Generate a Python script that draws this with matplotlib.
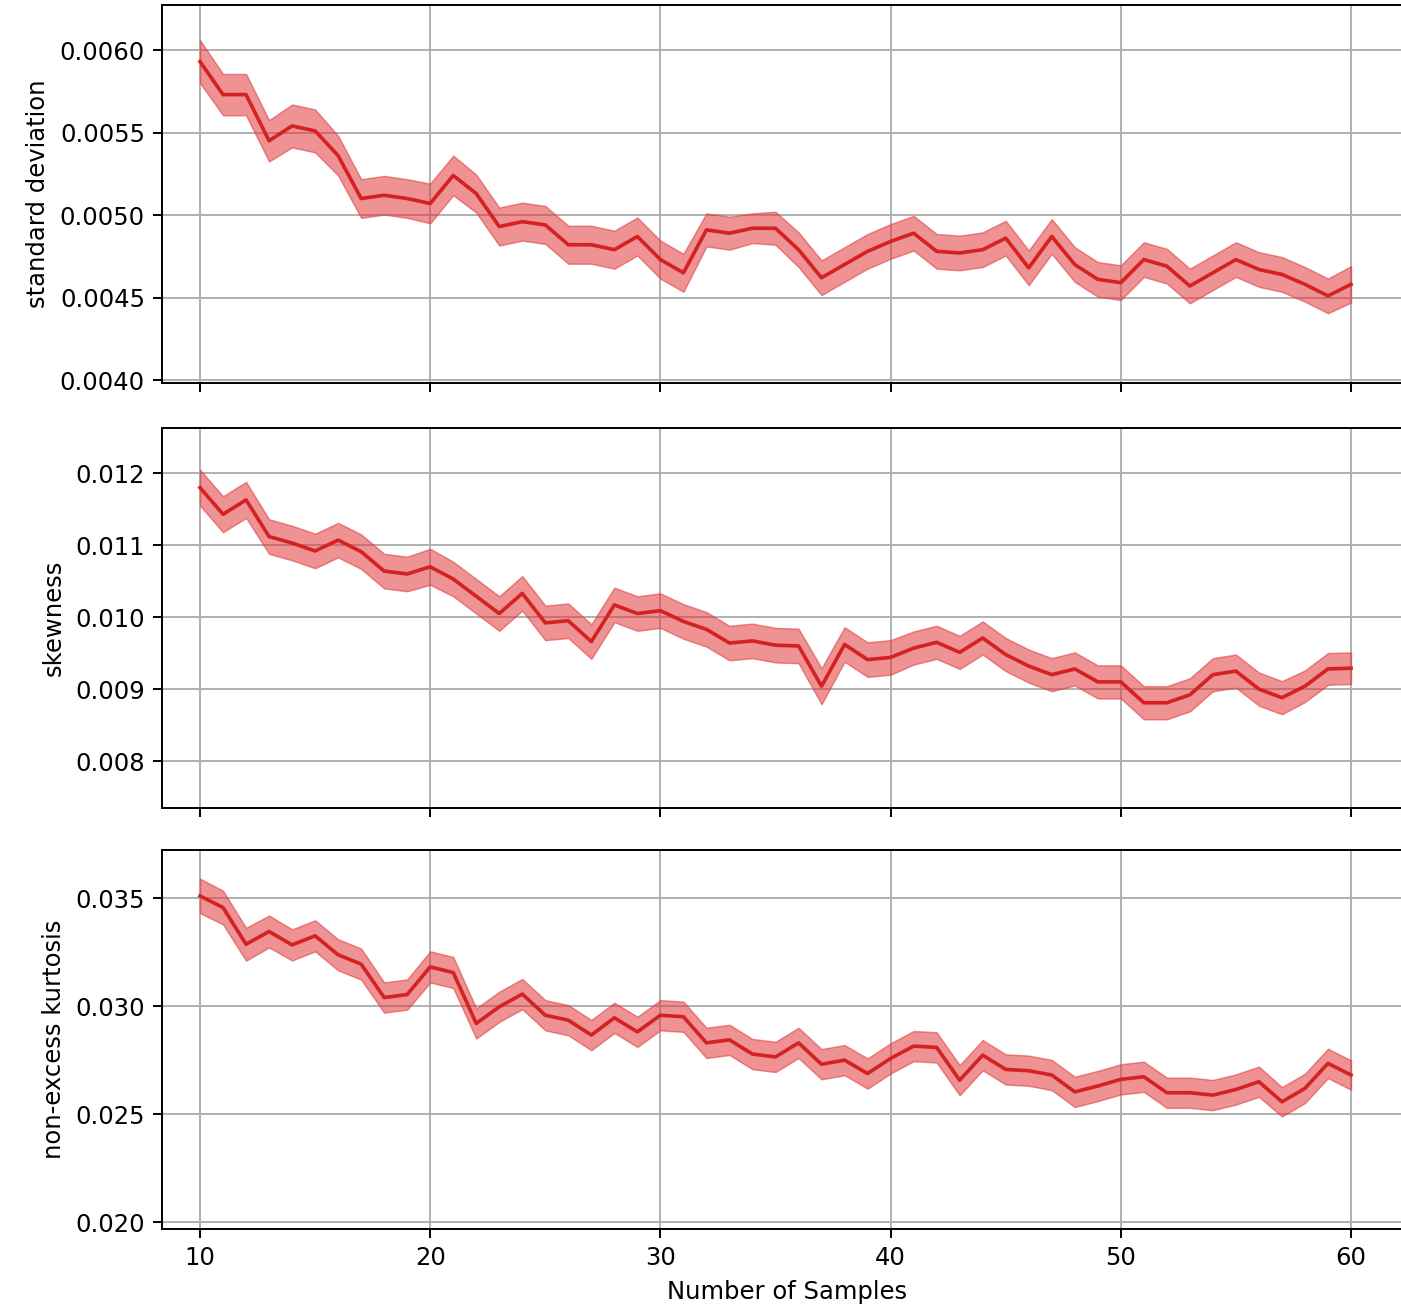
import matplotlib
matplotlib.use("Agg")
import matplotlib.pyplot as plt
import numpy as np

samples = list(range(10, 61))

std_mean = [0.00593, 0.00573, 0.00573, 0.00545, 0.00554, 0.00551, 0.00536, 0.00510, 0.00512, 0.00510,
            0.00507, 0.00524, 0.00513, 0.00493, 0.00496, 0.00494, 0.00482, 0.00482, 0.00479, 0.00487,
            0.00473, 0.00465, 0.00491, 0.00489, 0.00492, 0.00492, 0.00479, 0.00462, 0.00470, 0.00478,
            0.00484, 0.00489, 0.00478, 0.00477, 0.00479, 0.00486, 0.00468, 0.00487, 0.00470, 0.00461,
            0.00459, 0.00473, 0.00469, 0.00457, 0.00465, 0.00473, 0.00467, 0.00464, 0.00458, 0.00451,
            0.00458]
std_err = [0.000130, 0.000125, 0.000125, 0.000125, 0.000130, 0.000130, 0.000120, 0.000117, 0.000117, 0.000117,
           0.000120, 0.000120, 0.000115, 0.000115, 0.000115, 0.000115, 0.000115, 0.000115, 0.000115, 0.000115,
           0.000115, 0.000115, 0.000100, 0.000100, 0.000090, 0.000100, 0.000105, 0.000105, 0.000105, 0.000105,
           0.000105, 0.000105, 0.000105, 0.000105, 0.000105, 0.000105, 0.000105, 0.000105, 0.000105, 0.000105,
           0.000105, 0.000105, 0.000105, 0.000105, 0.000105, 0.000105, 0.000105, 0.000105, 0.000105, 0.000105,
           0.000110]

skew_mean = [0.01180, 0.01143, 0.01163, 0.01112, 0.01103, 0.01092, 0.01107, 0.01091, 0.01064, 0.01060,
             0.01070, 0.01053, 0.01029, 0.01005, 0.01033, 0.00992, 0.00995, 0.00966, 0.01017, 0.01005,
             0.01009, 0.00994, 0.00983, 0.00964, 0.00967, 0.00961, 0.00960, 0.00904, 0.00962, 0.00941,
             0.00944, 0.00957, 0.00965, 0.00951, 0.00971, 0.00948, 0.00932, 0.00920, 0.00928, 0.00910,
             0.00910, 0.00881, 0.00881, 0.00892, 0.00920, 0.00925, 0.00900, 0.00888, 0.00904, 0.00928,
             0.00929]
skew_err = [0.00025, 0.00025, 0.00025, 0.00024, 0.00024, 0.00024, 0.00024, 0.00024, 0.00024, 0.00024,
            0.00025, 0.00024, 0.00024, 0.00024, 0.00024, 0.00024, 0.00024, 0.00024, 0.00024, 0.00024,
            0.00024, 0.00024, 0.00024, 0.00024, 0.00024, 0.00024, 0.00024, 0.00025, 0.00024, 0.00024,
            0.00024, 0.00023, 0.00023, 0.00023, 0.00023, 0.00023, 0.00023, 0.00023, 0.00023, 0.00023,
            0.00023, 0.00023, 0.00023, 0.00023, 0.00023, 0.00023, 0.00023, 0.00023, 0.00022, 0.00022,
            0.00022]

kurt_mean = [0.03511, 0.03457, 0.03287, 0.03346, 0.03284, 0.03326, 0.03238, 0.03195, 0.03040, 0.03054,
             0.03182, 0.03156, 0.02920, 0.02997, 0.03056, 0.02958, 0.02935, 0.02866, 0.02946, 0.02881,
             0.02958, 0.02951, 0.02830, 0.02844, 0.02778, 0.02765, 0.02830, 0.02731, 0.02750, 0.02688,
             0.02758, 0.02815, 0.02809, 0.02657, 0.02773, 0.02707, 0.02701, 0.02681, 0.02603, 0.02630,
             0.02661, 0.02673, 0.02599, 0.02599, 0.02588, 0.02614, 0.02650, 0.02557, 0.02619, 0.02735,
             0.02681]
kurt_err = [0.00080, 0.00078, 0.00076, 0.00074, 0.00072, 0.00072, 0.00072, 0.00072, 0.00070, 0.00070,
            0.00072, 0.00072, 0.00070, 0.00070, 0.00070, 0.00070, 0.00070, 0.00070, 0.00070, 0.00070,
            0.00070, 0.00070, 0.00070, 0.00070, 0.00070, 0.00070, 0.00070, 0.00070, 0.00070, 0.00070,
            0.00070, 0.00070, 0.00070, 0.00070, 0.00070, 0.00070, 0.00070, 0.00070, 0.00070, 0.00070,
            0.00070, 0.00070, 0.00070, 0.00070, 0.00070, 0.00070, 0.00070, 0.00068, 0.00068, 0.00068,
            0.00068]

panels = [
    ("standard deviation", std_mean, std_err, (0.003982, 0.006273), [0.0040, 0.0045, 0.0050, 0.0055, 0.0060]),
    ("skewness", skew_mean, skew_err, (0.007347, 0.012629), [0.008, 0.009, 0.010, 0.011, 0.012]),
    ("non-excess kurtosis", kurt_mean, kurt_err, (0.019676, 0.037236), [0.020, 0.025, 0.030, 0.035]),
]
x_ticks = [10, 20, 30, 40, 50, 60]

W, H = 1402, 1304
DPI = 175
fig = plt.figure(figsize=(W / DPI, H / DPI), dpi=DPI)

left_px, right_px = 162, 1412
boxes = [(5, 383), (428, 808), (850, 1229)]
px_per_unit = 23.02
x_left = 10 - (200 - left_px) / px_per_unit
x_right = 10 + (right_px - 200) / px_per_unit

x = np.array(samples)
for i, ((label, mean, err, ylim, yticks), (top_px, bot_px)) in enumerate(zip(panels, boxes)):
    ax = fig.add_axes([left_px / W, 1 - bot_px / H, (right_px - left_px) / W, (bot_px - top_px) / H])
    m = np.array(mean)
    e = np.array(err)
    ax.fill_between(x, m - e, m + e, color="#e0393a", alpha=0.55, linewidth=0.6)
    ax.plot(x, m, color="#d42222", linewidth=1.5)
    ax.set_xlim(x_left, x_right)
    ax.set_ylim(*ylim)
    ax.set_yticks(yticks)
    ax.set_xticks(x_ticks)
    ax.grid(True)
    ax.set_axisbelow(True)
    ax.set_ylabel(label)
    if i < 2:
        ax.tick_params(labelbottom=False)
    else:
        ax.set_xlabel("Number of Samples")

fig.savefig("out.png", dpi=DPI)
